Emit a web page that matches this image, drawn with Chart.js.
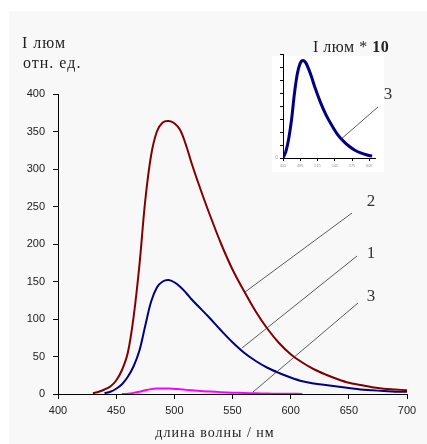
<!DOCTYPE html>
<html>
<head>
<meta charset="utf-8">
<script src="https://cdn.jsdelivr.net/npm/chart.js@4.4.1/dist/chart.umd.min.js"></script>
<style>
  body { margin: 0; background: #fff; }
  #wrap { position: relative; width: 427px; height: 444px; }
  #main { position: absolute; left: 0; top: 0; }
  #inset { position: absolute; left: 262px; top: 40px; }
</style>
</head>
<body>
<div id="wrap">
  <canvas id="main" width="427" height="444"></canvas>
  <canvas id="inset" width="140" height="135"></canvas>
</div>
<script>
// curve 2 (dark red)
const wl2 = [430, 435, 440, 445, 450, 455, 460, 465, 470, 475, 480, 485, 490, 495, 500, 505, 510, 515, 520, 525, 530, 540, 550, 560, 570, 580, 590, 600, 610, 620, 630, 640, 650, 660, 670, 680, 690, 700]
const curve2 = [1, 3, 6, 10, 18, 32, 55, 103, 172, 258, 318, 350, 362, 364, 361, 352, 332, 307, 284, 262, 241, 201, 166, 137, 110, 87, 68, 53, 42, 33, 26, 20, 15, 12, 9, 7, 6, 5]

// curve 1 (navy)
const wl1 = [440, 445, 450, 455, 460, 465, 470, 475, 480, 485, 490, 495, 500, 505, 510, 515, 520, 530, 540, 550, 560, 570, 580, 590, 600, 610, 620, 630, 640, 650, 660, 670, 680, 690, 700]
const curve1 = [1, 3, 7, 13, 23, 37, 58, 91, 123, 142, 150, 152, 149, 143, 135, 126, 118, 102, 85, 69, 55, 44, 35, 28, 22, 17, 14, 12, 10, 8, 6, 5, 4, 3, 3]

// curve 3 (magenta), also shown x10 in the inset
const wl3 = [455, 460, 465, 470, 475, 480, 485, 490, 495, 500, 505, 510, 520, 530, 540, 550, 560, 570, 580, 590, 600, 610]
const curve3 = [0, 0.5, 1.5, 3, 5, 6.5, 7.3, 7.5, 7.3, 6.8, 6.2, 5.5, 4.3, 3.3, 2.5, 1.8, 1.3, 0.9, 0.6, 0.4, 0.25, 0.15]

const xTicks = [400, 450, 500, 550, 600, 650, 700]
const yTicks = [0, 50, 100, 150, 200, 250, 300, 350, 400]
const insetXTicks = [455, 485, 515, 545, 575, 605]
const insetYTicks = [0, 10, 20, 30, 40, 50, 60, 70, 80]

function points(xs, ys, k) {
  return xs.map((x, i) => ({x: x, y: ys[i] * (k || 1)}))
}

const serif = '"Liberation Serif", "Times New Roman", serif'
const sans = '"Liberation Sans", Arial, sans-serif'

const mainDecor = {
  id: 'mainDecor',
  beforeDraw(chart) {
    let ctx = chart.ctx
    ctx.save()
    ctx.fillStyle = '#ffffff'
    ctx.fillRect(0, 0, chart.width, chart.height)
    ctx.fillStyle = '#f8f8f8'
    ctx.fillRect(9, 11, chart.width - 9, chart.height - 11)
    ctx.restore()
  },
  afterDraw(chart) {
    let ctx = chart.ctx
    ctx.save()
    ctx.fillStyle = '#222'
    ctx.textBaseline = 'middle'
    ctx.font = '16px ' + serif
    ctx.letterSpacing = '1px'
    ctx.fillText('I люм', 22, 44)
    ctx.fillText('отн. ед.', 23, 64)
    ctx.font = '14px ' + serif
    ctx.letterSpacing = '1px'
    ctx.textAlign = 'center'
    ctx.fillText('длина волны / нм', 215, 433)
    ctx.letterSpacing = '0px'
    // leader lines to the curve numbers
    ctx.strokeStyle = '#333'
    ctx.lineWidth = 0.8
    const leaders = [[352, 213, 245, 292], [357, 256, 242, 348], [358, 303, 253, 392]]
    leaders.forEach(l => {
      ctx.beginPath()
      ctx.moveTo(l[0], l[1])
      ctx.lineTo(l[2], l[3])
      ctx.stroke()
    })
    ctx.font = '17px ' + serif
    ctx.fillStyle = '#333'
    ctx.fillText('2', 371, 202)
    ctx.fillText('1', 371, 254)
    ctx.fillText('3', 371, 297)
    ctx.restore()
  }
}

const insetDecor = {
  id: 'insetDecor',
  beforeDraw(chart) {
    let ctx = chart.ctx
    ctx.save()
    ctx.fillStyle = '#ffffff'
    ctx.fillRect(10, 16, 112, 116)
    ctx.restore()
  },
  afterDraw(chart) {
    let ctx = chart.ctx
    ctx.save()
    ctx.fillStyle = '#222'
    ctx.textBaseline = 'middle'
    ctx.font = '16px ' + serif
    ctx.letterSpacing = '0.5px'
    let t = 'I люм * '
    ctx.fillText(t, 51, 8)
    let w = ctx.measureText(t).width
    ctx.font = 'bold 16px ' + serif
    ctx.fillText('10', 51 + w, 8)
    ctx.letterSpacing = '0px'
    ctx.strokeStyle = '#333'
    ctx.lineWidth = 0.8
    ctx.beginPath()
    ctx.moveTo(116, 67)
    ctx.lineTo(78, 100)
    ctx.stroke()
    ctx.font = '17px ' + serif
    ctx.fillStyle = '#333'
    ctx.textAlign = 'center'
    ctx.fillText('3', 126, 55)
    ctx.restore()
  }
}

const mainConfig = {
  type: 'line',
  data: {
    datasets: [
      {data: points(wl2, curve2), borderColor: '#800000', borderWidth: 2},
      {data: points(wl1, curve1), borderColor: '#000080', borderWidth: 2},
      {data: points(wl3, curve3), borderColor: '#ff00ff', borderWidth: 2}
    ]
  },
  options: {
    responsive: false,
    animation: false,
    layout: {padding: {left: 0, top: 94, right: 20, bottom: 0}},
    elements: {
      point: {radius: 0},
      line: {tension: 0.35, fill: false}
    },
    plugins: {legend: {display: false}, tooltip: {enabled: false}},
    scales: {
      x: {
        type: 'linear',
        min: 400,
        max: 700,
        afterBuildTicks: s => { s.ticks = xTicks.map(v => ({value: v})) },
        afterFit: s => { s.height = 50 },
        border: {color: '#000', width: 1},
        grid: {drawOnChartArea: false, tickLength: 5, color: '#000'},
        ticks: {color: '#222', padding: 5, font: {family: sans, size: 11}, maxRotation: 0}
      },
      y: {
        min: 0,
        max: 400,
        afterBuildTicks: s => { s.ticks = yTicks.map(v => ({value: v})) },
        afterFit: s => { s.width = 58 },
        border: {color: '#000', width: 1},
        grid: {drawOnChartArea: false, tickLength: 5, color: '#000'},
        ticks: {color: '#222', padding: 8, font: {family: sans, size: 11}}
      }
    }
  },
  plugins: [mainDecor]
}

new Chart(document.getElementById('main'), mainConfig)

const insetConfig = {
  type: 'line',
  data: {
    datasets: [
      {data: points(wl3, curve3, 10), borderColor: '#000080', borderWidth: 3}
    ]
  },
  options: {
    responsive: false,
    animation: false,
    layout: {padding: {left: 0, top: 14, right: 27, bottom: 0}},
    elements: {
      point: {radius: 0},
      line: {tension: 0.3, fill: false}
    },
    plugins: {legend: {display: false}, tooltip: {enabled: false}},
    scales: {
      x: {
        type: 'linear',
        min: 455,
        max: 615,
        afterBuildTicks: s => { s.ticks = insetXTicks.map(v => ({value: v})) },
        afterFit: s => { s.height = 17 },
        border: {color: '#000', width: 1},
        grid: {drawOnChartArea: false, tickLength: 3, color: '#000'},
        ticks: {color: '#999', padding: 2, font: {family: sans, size: 4}, maxRotation: 0}
      },
      y: {
        min: 0,
        max: 80,
        afterBuildTicks: s => { s.ticks = insetYTicks.map(v => ({value: v})) },
        afterFit: s => { s.width = 21 },
        border: {color: '#000', width: 1},
        grid: {drawOnChartArea: false, tickLength: 3, color: '#000'},
        ticks: {color: '#999', padding: 2, font: {family: sans, size: 5},
          callback: v => v === 0 ? '0' : ''}
      }
    }
  },
  plugins: [insetDecor]
}

new Chart(document.getElementById('inset'), insetConfig)
</script>
</body>
</html>
